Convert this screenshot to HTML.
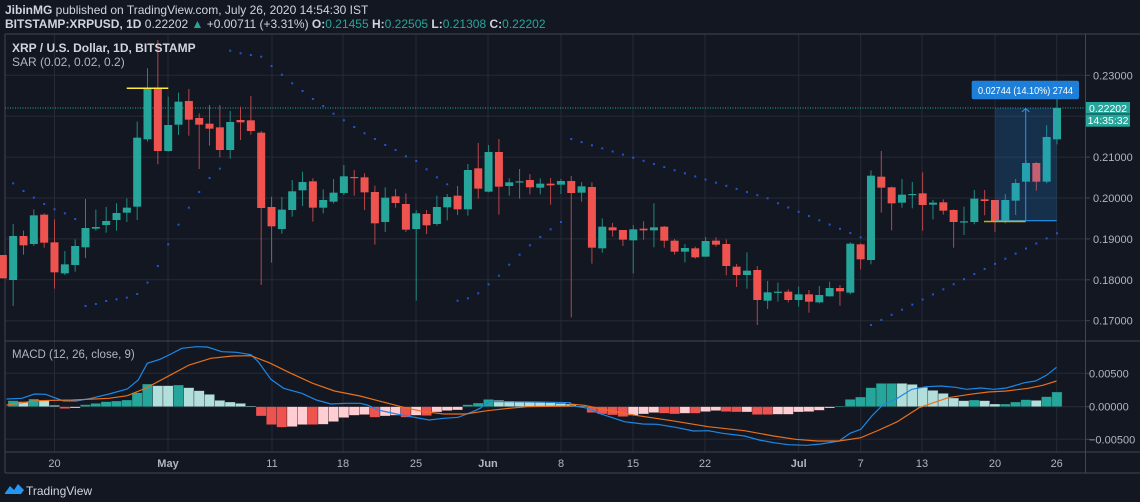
<!DOCTYPE html>
<html><head><meta charset="utf-8"><style>
html,body{margin:0;padding:0;background:#131722;width:1140px;height:502px;overflow:hidden;font-family:"Liberation Sans",sans-serif;}
svg{display:block}
</style></head><body>
<svg id="s" width="1140" height="502" xmlns="http://www.w3.org/2000/svg" font-family="Liberation Sans, sans-serif">
<rect width="1140" height="502" fill="#131722"/>
<g id="grid"></g>
<g id="sar"></g>
<g id="hist"></g>
<g id="candles"></g>
<g id="over"></g>
<text x="5" y="14" font-size="12" fill="#d1d4dc"><tspan font-weight="bold">JibinMG</tspan> published on TradingView.com, July 26, 2020 14:54:30 IST</text>
<text x="5" y="28" font-size="12" fill="#d1d4dc"><tspan font-weight="bold">BITSTAMP:XRPUSD, 1D</tspan> 0.22202 <tspan fill="#26a69a">▲</tspan> +0.00711 (+3.31%) <tspan font-weight="bold">O:</tspan><tspan fill="#26a69a">0.21455</tspan> <tspan font-weight="bold">H:</tspan><tspan fill="#26a69a">0.22505</tspan> <tspan font-weight="bold">L:</tspan><tspan fill="#26a69a">0.21308</tspan> <tspan font-weight="bold">C:</tspan><tspan fill="#26a69a">0.22202</tspan></text>
<text x="12" y="52" font-size="12" font-weight="bold" fill="#d1d4dc">XRP / U.S. Dollar, 1D, BITSTAMP</text>
<text x="12" y="66" font-size="12" fill="#b2b5be">SAR (0.02, 0.02, 0.2)</text>
<text x="12" y="358" font-size="11.5" fill="#b2b5be">MACD (12, 26, close, 9)</text>
<g transform="translate(5,483)">
<path d="M0 10 L5 3 L9 7 L13 1 L19 7 L16 11 L0 11 Z" fill="#2196f3"/>
</g>
<text x="26" y="495" font-size="12" fill="#d1d4dc">TradingView</text>
</svg>
<script>
const NS="http://www.w3.org/2000/svg";
function el(p,t,a,txt){const e=document.createElementNS(NS,t);for(const k in a)e.setAttribute(k,a[k]);if(txt!==undefined)e.textContent=txt;document.getElementById(p).appendChild(e);return e;}
const X=k=>54.5+(k-6)*10.335;
const Y=zy=>60+zy/3;
const vx=[54.5,168,272,343,416,488,561,633,705,798.7,860.7,922,995,1056.7];
vx.forEach(x=>{el('grid','line',{x1:x,x2:x,y1:34,y2:452,stroke:'#262a35','stroke-width':1});});
[75.3,116.2,157.1,198,238.9,279.8,320.7].forEach(y=>el('grid','line',{x1:5,x2:1085,y1:y,y2:y,stroke:'#262a35'}));
[373.3,439.3].forEach(y=>el('grid','line',{x1:5,x2:1085,y1:y,y2:y,stroke:'#262a35'}));
el('grid','line',{x1:5,x2:1085,y1:406.7,y2:406.7,stroke:'#2a2e39'});
el('grid','line',{x1:5,x2:1140,y1:34,y2:34,stroke:'#434651'});
el('grid','line',{x1:5,x2:1140,y1:341,y2:341,stroke:'#434651'});
el('grid','line',{x1:5,x2:1140,y1:452,y2:452,stroke:'#434651'});
el('grid','line',{x1:5,x2:1140,y1:473,y2:473,stroke:'#434651'});
el('grid','line',{x1:5,x2:5,y1:34,y2:473,stroke:'#434651'});
el('grid','line',{x1:1085.5,x2:1085.5,y1:34,y2:473,stroke:'#434651'});
[["20",54.5],["May",168,1],["11",272],["18",343],["25",416],["Jun",488,1],["8",561],["15",633],["22",705],["Jul",798.7,1],["7",860.7],["13",922],["20",995],["26",1056.7]].forEach(a=>{
 el('over','text',{x:a[1],y:467,'font-size':11,fill:'#b2b5be','text-anchor':'middle','font-weight':a[2]?'bold':'normal'},a[0]);});
[["0.23000",75.3],["0.21000",157.1],["0.20000",198],["0.19000",238.9],["0.18000",279.8],["0.17000",320.7]].forEach(a=>el('over','text',{x:1093,y:a[1]+4,'font-size':11,fill:'#b2b5be'},a[0]));
[["0.00500",373.3],["0.00000",406.7],["\u22120.00500",439.3]].forEach(a=>el('over','text',{x:1089,y:a[1]+4,'font-size':11,fill:'#b2b5be'},a[0]));
[75.3,157.1,198,238.9,279.8,320.7,373.3,406.7,439.3].forEach(y=>el('grid','line',{x1:1085,x2:1090,y1:y,y2:y,stroke:'#434651'}));
el('grid','line',{x1:5,x2:1085,y1:108,y2:108,stroke:'#26a69a','stroke-dasharray':'1,1.5','stroke-width':1});
const C=[
['r',585,655,585,655],['g',528,660,492,738],['r',528,556,512,584],['g',466,552,448,558],['r',464,548,460,563],
['r',547,637,478,686],['g',613,640,573,645],['g',558,615,538,635],['g',504,562,417,594],['g',501,506,449,512],
['g',483,495,441,518],['g',459,480,430,512],['g',443,458,415,486],['g',233,440,185,480],['g',85,238,25,245],
['r',85,273,-60,313],['g',195,273,110,275],['g',125,194,98,225],['r',123,179,87,227],['r',174,194,160,327],
['r',191,206,135,257],['r',202,270,135,292],['g',186,270,153,296],['r',180,187,140,240],['r',181,213,108,224],
['r',218,444,213,675],['r',441,499,410,608],['g',449,507,411,521],['g',394,450,360,470],['g',366,391,335,438],
['r',364,443,355,485],['g',420,443,388,460],['g',398,425,357,430],['g',349,399,315,405],['r',351,354,330,407],
['r',352,397,340,450],['r',396,490,377,554],
['g',413,486,382,516],['r',409,429,387,443],['r',432,509,400,516],['g',460,507,450,722],['r',462,496,450,522],
['g',441,492,407,497],['g',411,442,402,481],['r',407,448,378,465],['g',330,448,312,467],['r',325,386,249,416],
['g',276,395,255,397],['r',276,380,237,464],['g',367,378,355,407],['g',364,367,327,416],['r',360,382,342,403],
['g',371,383,355,403],['r',371,376,354,434],['g',363,374,357,402],['r',363,399,348,772],['g',379,398,366,425],
['r',381,563,367,611],['g',500,565,475,578],['r',502,511,489,530],['r',510,539,510,558],['g',508,541,495,640],
['r',506,511,484,539],['g',502,511,430,562],['r',500,542,498,563],['r',542,575,537,584],['g',564,575,552,607],
['r',565,592,560,596],['g',543,590,531,590],['r',542,554,532,560],['r',552,618,538,646],['r',620,645,612,681],
['g',632,645,577,686],['r',630,720,618,795],
['g',697,722,663,747],['g',695,698,668,725],['r',695,720,688,727],['g',703,720,680,740],['r',703,725,690,758],
['g',705,727,678,730],['g',684,709,665,710],['r',684,694,675,737],['g',551,698,547,703],['r',553,598,550,628],
['g',347,600,331,613],['r',350,383,273,458],['r',382,430,380,511],['g',404,428,357,443],['g',402,405,366,445],
['r',400,435,337,512],['g',428,434,420,478],['r',427,452,418,464],['r',450,486,448,563],['g',484,486,440,525],
['g',416,486,390,493],['r',418,423,390,466],['r',420,483,420,516],['g',420,483,402,490],['g',369,422,357,465],
['g',309,365,300,365],['r',309,365,306,392],['g',231,365,196,370],['g',144,238,112,253]];
C.forEach((c,i)=>{const k=i+1,x=X(k);const col=c[0]=='g'?'#26a69a':'#ef5350';const wc=c[0]=='g'?'#1f8a80':'#b8454a';
 el('candles','line',{x1:x,x2:x,y1:Y(c[3]),y2:Y(c[4]),stroke:wc,'stroke-width':1});
 const t=Y(c[1]),b=Y(c[2]);el('candles','rect',{x:x-4,y:t,width:8,height:Math.max(1.2,b-t),fill:col});});
function lin(a,b,n){const r=[];for(let i=0;i<n;i++)r.push(a+(b-a)*i/(n-1));return r;}
let S=[];S[1]=null;
const s1=[370,393,413,432,448,460,477].map(Y);s1.forEach((v,i)=>S[2+i]=v);
const s2=[738,732,723,718,713,702,668,618,553,494,443,396,354,326].map(Y);s2.forEach((v,i)=>S[9+i]=v);
[50.7,53.3,55,56.7,66,74.7].forEach((v,i)=>S[23+i]=v);
[83.3,91,99,106,113.7,120.3,127,133.3,139,145,150,156.3,161,169.3,177.3,184.3].forEach((v,i)=>S[29+i]=v);
[300.7,298.3,293.3,284.3,275.7,264.7,254.7,245.3,237,229.3,222].forEach((v,i)=>S[45+i]=v);
lin(139,198.3,20).forEach((v,i)=>S[56+i]=v);
lin(203.3,237.3,9).forEach((v,i)=>S[76+i]=v);
lin(325,233.3,19).forEach((v,i)=>S[85+i]=v);
S.forEach((v,k)=>{if(v!=null)el('sar','rect',{x:X(k)-1,y:v-1,width:2,height:2,fill:'#2962ff',opacity:0.8});});
const H=[['g',212],['l',215],['g',207],['l',212],['l',226],['r',236],['p',234],['g',224],['g',220],['g',215],['g',213],['g',210],['g',188],['g',162],['l',167],['l',167],['g',165],['l',173],['l',182],['l',193],['l',211],['l',216],['l',220],['l',228],
['r',258],['r',284],['r',292],['p',290],['p',284],['r',284],['p',283],['p',275],['p',263],['p',256],['p',254],['r',262],['p',258],['p',256],['r',262],['p',256],['r',257],['p',246],['p',242],['p',240],
['g',224],['g',219],['g',208],['l',211],['l',213],['l',215],['l',216],['l',217],['l',218],['l',220],
['l',222],['l',228],['r',248],['r',252],['r',255],['r',260],['p',256],['p',252],['p',248],['r',250],['r',252],['p',250],['r',250],['p',245],['p',242],['r',245],['r',246],['p',246],['r',254],['r',254],['p',253],['p',253],['p',246],['p',245],['p',241],['p',234],
['g',228],['g',208],['g',201],['g',173],['g',160],['g',160],['l',160],['l',163],['l',172],['l',181],['l',190],['l',204],['l',212],['g',210],['l',212],['l',222],['g',222],['g',216],['g',209],['l',211],['g',200],['g',186]];
const hc={g:'#26a69a',l:'#b2dfdb',r:'#ef5350',p:'#ffcdd2'};
H.forEach((h,i)=>{const k=i+2,x=X(k);const z=406.7,y=330+h[1]/3;const t=Math.min(z,y),hh=Math.max(0.8,Math.abs(y-z));
 el('hist','rect',{x:x-5.2,y:t,width:10.3,height:hh,fill:hc[h[0]],stroke:'#131722','stroke-opacity':0.5,'stroke-width':0.6});});
function pl(pts5,pts6,col){let d=[];pts5.forEach(p=>d.push([p[0]/2.75,330+p[1]/3]));pts6.forEach(p=>d.push([570+p[0]/2.75,330+p[1]/3]));
 el('over','polyline',{points:d.map(p=>p[0].toFixed(1)+','+p[1].toFixed(1)).join(' '),fill:'none',stroke:col,'stroke-width':1.2});}
pl([[18,207],[60,205],[95,192],[125,193],[175,213],[210,213],[250,205],[300,192],[350,177],[380,150],[405,100],[440,88],[470,72],[500,55],[540,50],[570,51],[610,65],[650,67],[690,74],[710,95],[745,148],[780,175],[830,190],[870,210],[910,222],[950,220],[990,220],[1010,225],[1040,240],[1090,252],[1140,262],[1180,270],[1220,265],[1260,262],[1300,245],[1320,235],[1345,215],[1400,215],[1480,216],[1568,218]],
[[0,226],[50,235],[80,250],[150,275],[200,282],[240,283],[290,292],[340,303],[380,302],[420,310],[480,318],[520,330],[560,338],[600,344],[650,346],[690,342],[740,333],[770,310],[800,298],[830,258],[860,225],[900,205],[940,178],[980,170],[1020,168],[1060,172],[1090,178],[1130,174],[1165,178],[1200,174],[1250,158],[1280,153],[1310,136],[1338,112]],'#1e88e5');
pl([[18,225],[100,212],[200,210],[300,205],[350,197],[400,175],[460,140],[520,105],[580,85],[640,78],[690,77],[740,98],[800,130],[860,160],[920,183],[990,198],[1050,215],[1110,232],[1160,244],[1220,252],[1280,252],[1340,242],[1400,235],[1450,230],[1568,228]],
[[0,222],[40,226],[100,240],[180,256],[280,272],[380,290],[480,302],[560,318],[620,328],[680,333],[740,333],[800,323],[850,300],[900,275],[960,233],[1000,218],[1040,203],[1100,193],[1150,186],[1200,183],[1260,175],[1300,166],[1338,153]],'#e8701a');
el('over','line',{x1:126.7,x2:168.3,y1:88.3,y2:88.3,stroke:'#ffeb3b','stroke-width':1.5});
el('over','rect',{x:995,y:108,width:61.7,height:112.7,fill:'rgba(33,150,243,0.2)'});
el('over','line',{x1:995,x2:1056.7,y1:220.7,y2:220.7,stroke:'#2196f3','stroke-width':1.2});
el('over','line',{x1:984,x2:1025.7,y1:221.5,y2:221.5,stroke:'#c8b400','stroke-width':1.5});
el('over','line',{x1:1025.7,x2:1025.7,y1:220,y2:109,stroke:'#2196f3','stroke-width':1});
el('over','polyline',{points:'1022,112 1025.7,108.5 1029.4,112',fill:'none',stroke:'#2196f3','stroke-width':1});
el('over','rect',{x:971.7,y:80.7,width:107.3,height:18.6,rx:2,fill:'#1e7fd8'});
el('over','text',{x:978,y:94,'font-size':10.5,fill:'#ffffff',textLength:95,lengthAdjust:'spacingAndGlyphs'},'0.02744 (14.10%) 2744');
el('over','rect',{x:1086,y:102,width:44,height:24.7,fill:'#26a69a'});
el('over','line',{x1:1086,x2:1130,y1:114,y2:114,stroke:'#131722','stroke-width':0.8});
el('over','text',{x:1108,y:112,'font-size':10.5,fill:'#fff','text-anchor':'middle'},'0.22202');
el('over','text',{x:1108,y:124,'font-size':10.5,fill:'#fff','text-anchor':'middle'},'14:35:32');
</script>
</body></html>
